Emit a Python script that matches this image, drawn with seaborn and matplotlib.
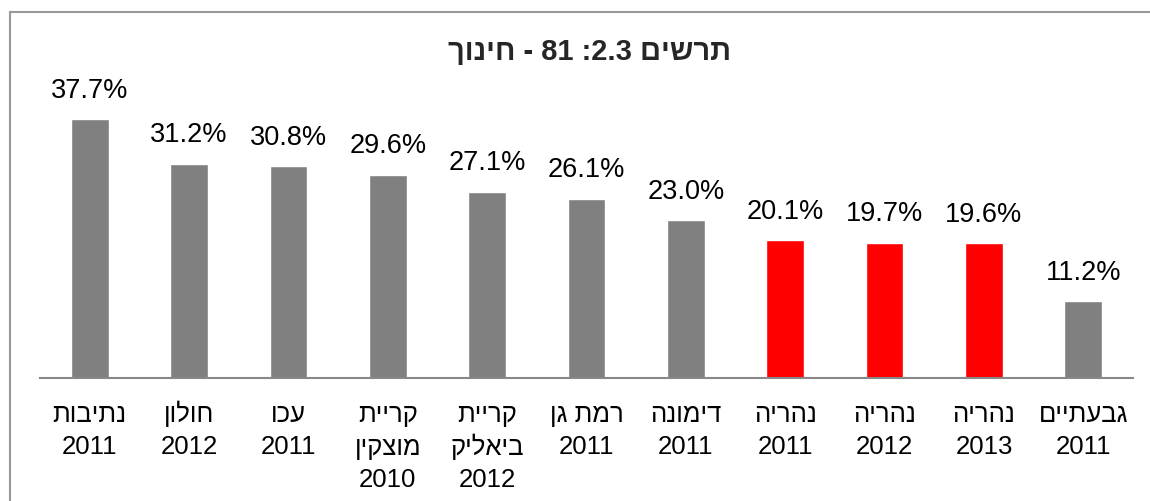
import matplotlib
matplotlib.use("Agg")
import matplotlib.pyplot as plt
import seaborn as sns
import pandas as pd
from matplotlib.patches import Rectangle
from matplotlib.transforms import offset_copy

categories = ["נתיבות\n2011", "חולון\n2012", "עכו\n2011", "קריית\nמוצקין\n2010",
              "קריית\nביאליק\n2012", "רמת גן\n2011", "דימונה\n2011", "נהריה\n2011",
              "נהריה\n2012", "נהריה\n2013", "גבעתיים\n2011"]
values = [37.7, 31.2, 30.8, 29.6, 27.1, 26.1, 23.0, 20.1, 19.7, 19.6, 11.2]
highlight = [False, False, False, False, False, False, False, True, True, True, False]
title = "תרשים 2.3: 81 - חינוך"


def is_heb(tok):
    return any('\u0590' <= ch <= '\u05FF' for ch in tok)


def visual(text):
    """Simple right-to-left reordering for display (matplotlib draws LTR)."""
    lines = []
    for line in text.split("\n"):
        toks = line.split(" ")
        out = []
        for t in reversed(toks):
            if is_heb(t):
                out.append(t[::-1])
            elif t.endswith(":"):
                out.append(":" + t[:-1])
            else:
                out.append(t)
        lines.append(" ".join(out))
    return "\n".join(lines)


sns.set_theme(style="white")
plt.rcParams['font.family'] = ['Liberation Sans', 'DejaVu Sans']

df = pd.DataFrame({"cat": [visual(c) for c in categories], "val": values,
                   "grp": ["h" if h else "n" for h in highlight]})

fig = plt.figure(figsize=(11.5, 5.01), dpi=100)
fig.patches.append(Rectangle((10/1150, -0.1), 1.2, (501-12)/501 + 0.1,
                             transform=fig.transFigure, fill=False,
                             edgecolor="#999999", linewidth=1.5))
ax = fig.add_axes([40/1150, 123/501, (1133-40)/1150, 275/501])
sns.barplot(data=df, x="cat", y="val", hue="grp", dodge=False,
            palette={"n": "#808080", "h": "#FF0000"}, width=0.38,
            legend=False, ax=ax, saturation=1)
for c in ax.containers:
    ax.bar_label(c, labels=[f"{v:.1f}%" if v == v else "" for v in c.datavalues],
                 padding=11, fontsize=19.5, color="black")
ax.set_ylim(0, 40)
ax.set_xlim(-0.5, len(categories) - 0.5)
ax.set_xlabel("")
ax.set_ylabel("")
ax.set_yticks([])
for s in ["top", "right", "left"]:
    ax.spines[s].set_visible(False)
ax.spines["bottom"].set_color("#888888")
ax.spines["bottom"].set_linewidth(1.5)

# category labels: one text per line, aligned on baselines
ticklabels = [t.get_text() for t in ax.get_xticklabels()]
ticks = ax.get_xticks()
ax.tick_params(axis="x", length=0, labelbottom=False)
line_offsets_px = [44, 76.5, 109]
for x, lab in zip(ticks, ticklabels):
    for j, line in enumerate(lab.split("\n")):
        tr = offset_copy(ax.get_xaxis_transform(), fig=fig,
                         y=-line_offsets_px[j] * 0.72, units="points")
        ax.text(x, 0, line, transform=tr, ha="center", va="baseline",
                fontsize=18.5, color="black", clip_on=False)

fig.text(589/1150, 1 - 52/501, visual(title), ha="center", va="center",
         fontsize=21, fontweight="bold")
fig.savefig("out.png", dpi=100)
